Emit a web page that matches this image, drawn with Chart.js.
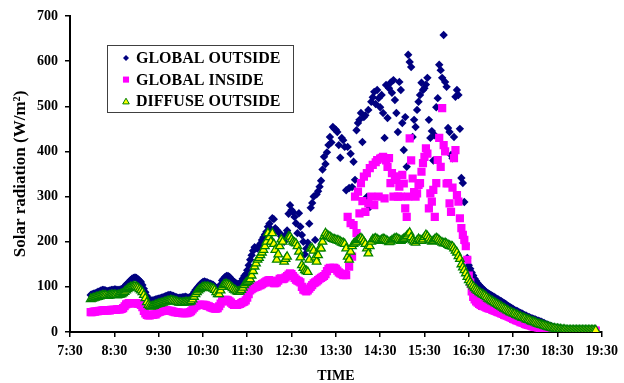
<!DOCTYPE html>
<html>
<head>
<meta charset="utf-8">
<script src="https://cdn.jsdelivr.net/npm/chart.js@4.4.1/dist/chart.umd.min.js"></script>
<style>
  html, body { margin: 0; padding: 0; background: #fff; }
  canvas { display: block; }
</style>
</head>
<body>
<canvas id="chart" width="624" height="383"></canvas>
<script>
// logger readings: first at 7:58, then one every 2 minutes (minutes after midnight)
const startMinute = 478;
const stepMinute = 2;

const timeTicks = ["7:30", "8:30", "9:30", "10:30", "11:30", "12:30", "13:30",
  "14:30", "15:30", "16:30", "17:30", "18:30", "19:30"];
const seriesLabels = ["GLOBAL OUTSIDE", "GLOBAL INSIDE", "DIFFUSE OUTSIDE"];

// W/m2, one row = 30 minutes
const globalOutside = [
  82, 84, 85, 86, 87, 89, 90, 92, 93, 93, 92, 91, 91, 92, 93,            // 7:58
  93, 94, 94, 93, 93, 94, 95, 97, 101, 105, 108, 111, 115, 118, 120,     // 8:28
  121, 120, 117, 114, 111, 104, 96, 88, 80, 74, 71, 70, 70, 71, 72,      // 8:58
  73, 74, 75, 76, 77, 78, 80, 81, 82, 82, 81, 80, 78, 77, 76,            // 9:28
  76, 76, 77, 77, 78, 77, 76, 77, 78, 82, 88, 93, 97, 101, 105,          // 9:58
  108, 111, 112, 111, 110, 108, 107, 106, 104, 101, 97, 94, 96, 105, 114, // 10:28
  118, 122, 124, 124, 122, 118, 114, 111, 109, 107, 106, 107, 112, 118, 124, // 10:58
  128, 137, 148, 160, 170, 180, 188, 186, 185, 190, 196, 204, 210, 216, 222, // 11:28
  233, 240, 228, 252, 250, 230, 226, 222, 219, 212, 208, 200, 215, 225, 262, // 11:58
  281, 270, 266, 255, 241, 219, 263, 233, 215, 200, 172, 185, 198, 240, 275, // 12:28
  286, 300, 204, 305, 312, 322, 335, 360, 388, 372, 398, 414, 432, 420, 454, // 12:58
  450, 448, 443, 414, 386, 430, 425, 410, 314, 410, 319, 395, 321, 377, 337, // 13:28
  447, 463, 470, 485, 421, 476, 480, 299, 492, 277, 510, 520, 532, 505, 536, // 13:58
  518, 498, 525, 485, 430, 547, 474, 540, 552, 530, 558, 514, 485, 443, 554, // 14:28
  536, 463, 403, 476, 366, 614, 598, 587, 432, 470, 454, 492, 510, 525, 552, // 14:58
  536, 540, 548, 563, 470, 430, 445, 380, 436, 498, 518, 592, 580, 563, 658, // 15:28
  554, 543, 452, 443, 392, 385, 432, 521, 536, 525, 450, 341, 330, 288, 193, // 15:58
  164, 148, 140, 132, 125, 118, 113, 108, 104, 100, 97, 94, 91, 88, 86,  // 16:28
  84, 82, 80, 78, 76, 74, 72, 70, 68, 66, 64, 62, 59, 57, 55,            // 16:58
  53, 51, 49, 47, 46, 44, 42, 41, 39, 37, 36, 34, 33, 31, 30,            // 17:28
  29, 28, 26, 25, 24, 23, 21, 20, 18, 17, 15, 14, 13, 11, 10,            // 17:58
  9, 8, 7, 6, 5, 5, 4, 4, 3, 3, 3, 3, 2, 2, 2,                           // 18:28
  2, 2, 2, 2, 2, 2, 2, 2, 2, 2, 2, 2, 2                                  // 18:58
];

const globalInside = [
  44, 44, 45, 45, 46, 46, 47, 47, 48, 48, 48, 48, 48, 48, 49,            // 7:58
  49, 49, 49, 50, 50, 50, 51, 53, 57, 61, 63, 64, 64, 64, 64,            // 8:28
  64, 64, 63, 62, 60, 55, 47, 41, 38, 37, 37, 38, 38, 39, 39,            // 8:58
  42, 44, 45, 46, 47, 48, 48, 48, 47, 47, 46, 45, 44, 44, 43,            // 9:28
  43, 43, 42, 42, 42, 42, 43, 44, 46, 50, 54, 57, 59, 60, 60,            // 9:58
  60, 60, 60, 59, 58, 57, 55, 54, 53, 52, 52, 53, 57, 63, 68,            // 10:28
  70, 71, 71, 70, 68, 65, 62, 60, 60, 60, 61, 62, 64, 66, 67,            // 10:58
  70, 76, 84, 92, 95, 97, 99, 100, 101, 103, 104, 106, 108, 110, 112,    // 11:28
  114, 115, 113, 110, 108, 108, 110, 114, 118, 119, 117, 118, 121, 124, 127, // 11:58
  130, 128, 124, 120, 116, 114, 112, 110, 100, 94, 92, 90, 92, 96, 100,  // 12:28
  104, 108, 110, 112, 115, 118, 120, 122, 124, 128, 135, 140, 142, 141, 142, // 12:58
  142, 140, 136, 132, 130, 128, 126, 128, 126, 255, 145, 241, 167, 237, 300, // 13:28
  219, 311, 263, 330, 290, 344, 266, 352, 285, 363, 300, 370, 281, 376, 381, // 13:58
  300, 384, 386, 388, 296, 380, 366, 385, 330, 352, 300, 345, 337, 300, 322, // 14:28
  300, 348, 329, 274, 255, 300, 429, 380, 340, 310, 300, 307, 326, 330, 355, // 14:58
  374, 388, 407, 395, 274, 307, 289, 315, 255, 330, 381, 430, 366, 496, 414, // 15:28
  400, 329, 330, 285, 266, 320, 385, 403, 303, 289, 252, 230, 215, 204, 190, // 15:58
  160, 125, 110, 90, 78, 72, 68, 65, 62, 60, 58, 57, 56, 54, 53,         // 16:28
  52, 51, 49, 48, 47, 45, 44, 43, 41, 40, 38, 37, 36, 34, 33,            // 16:58
  31, 29, 28, 26, 25, 24, 22, 21, 20, 18, 17, 16, 15, 14, 13,            // 17:28
  12, 12, 11, 10, 9, 9, 8, 7, 7, 6, 6, 5, 5, 5, 4,                       // 17:58
  4, 4, 4, 3, 3, 3, 3, 3, 3, 3, 3, 3, 3, 3, 3,                           // 18:28
  3, 3, 3, 3, 3, 3, 3, 3, 3, 3, 3, 3, 3                                  // 18:58
];

const diffuseOutside = [
  73, 74, 75, 76, 77, 78, 79, 80, 81, 81, 81, 80, 80, 81, 82,            // 7:58
  82, 82, 82, 81, 82, 83, 84, 86, 89, 92, 95, 97, 99, 100, 101,          // 8:28
  101, 100, 98, 95, 92, 88, 82, 75, 66, 60, 57, 56, 57, 58, 60,          // 8:58
  61, 62, 63, 64, 65, 66, 67, 68, 69, 70, 70, 69, 68, 67, 66,            // 9:28
  65, 65, 65, 65, 66, 66, 66, 66, 68, 72, 78, 84, 88, 92, 95,            // 9:58
  97, 99, 100, 100, 100, 99, 98, 97, 96, 93, 88, 84, 84, 92, 100,        // 10:28
  104, 106, 106, 105, 103, 100, 97, 94, 92, 90, 89, 90, 93, 98, 104,     // 10:58
  108, 111, 114, 117, 125, 135, 145, 152, 160, 164, 170, 176, 182, 190, 200, // 11:28
  219, 210, 200, 219, 195, 182, 160, 172, 190, 205, 200, 156, 162, 167, 211, // 11:58
  211, 205, 200, 198, 196, 190, 178, 165, 148, 142, 137, 135, 133, 160, 185, // 12:28
  185, 180, 165, 156, 170, 185, 185, 200, 212, 219, 215, 212, 211, 208, 206, // 12:58
  205, 204, 203, 202, 200, 198, 197, 195, 185, 167, 160, 178, 190, 195, 198, // 13:28
  200, 204, 206, 208, 205, 200, 195, 185, 174, 190, 200, 205, 206, 207, 205, // 13:58
  203, 202, 204, 206, 205, 203, 201, 199, 200, 203, 205, 207, 208, 206, 204, // 14:28
  202, 204, 206, 209, 212, 216, 220, 210, 203, 200, 198, 202, 206, 204, 202, // 14:58
  205, 210, 215, 212, 207, 203, 200, 202, 205, 208, 206, 203, 200, 198, 196, // 15:28
  197, 195, 193, 191, 190, 189, 185, 180, 176, 168, 162, 150, 143, 137, 130, // 15:58
  122, 115, 110, 105, 101, 97, 94, 91, 88, 86, 84, 82, 80, 77, 74,       // 16:28
  72, 70, 68, 66, 64, 62, 60, 58, 56, 54, 52, 50, 48, 46, 44,            // 16:58
  43, 41, 40, 38, 37, 35, 34, 32, 31, 30, 28, 27, 26, 24, 23,            // 17:28
  22, 21, 19, 18, 17, 16, 15, 14, 13, 12, 11, 10, 9, 8, 8,               // 17:58
  7, 7, 6, 6, 5, 5, 5, 4, 4, 4, 4, 4, 4, 4, 4,                           // 18:28
  4, 4, 4, 4, 4, 4, 4, 4, 4, 4, 4, 4, 4                                  // 18:58
];

const serif = '"Liberation Serif", "Times New Roman", serif';

function toPoints(values) {
  return values.map((v, i) => ({ x: startMinute + i * stepMinute, y: v }));
}

function toMinutes(label) {
  const [h, m] = label.split(":").map(Number);
  return h * 60 + m;
}

function formatTime(value) {
  const h = Math.floor(value / 60);
  const m = Math.round(value % 60);
  return h + ":" + String(m).padStart(2, "0");
}

function markerPath(ctx, style, x, y, r) {
  ctx.beginPath();
  if (style === "rectRot") {
    ctx.moveTo(x - r, y);
    ctx.lineTo(x, y - r);
    ctx.lineTo(x + r, y);
    ctx.lineTo(x, y + r);
  } else if (style === "rect") {
    const s = r * Math.SQRT1_2;
    ctx.rect(x - s, y - s, 2 * s, 2 * s);
  } else {
    ctx.moveTo(x, y - r);
    ctx.lineTo(x + r * 0.866, y + r / 2);
    ctx.lineTo(x - r * 0.866, y + r / 2);
  }
  ctx.closePath();
}

// boxed legend in the upper left of the plot
const legendBox = {
  id: "legendBox",
  afterDraw(chart) {
    const ctx = chart.ctx;
    ctx.save();
    ctx.fillStyle = "#fff";
    ctx.fillRect(107, 45, 186, 67);
    ctx.strokeStyle = "#404040";
    ctx.lineWidth = 1;
    ctx.strokeRect(107.5, 45.5, 186, 67);
    const sizes = [3, 4.3, 3.8];
    chart.data.datasets.forEach((ds, i) => {
      const y = 58 + i * 21.6;
      markerPath(ctx, ds.pointStyle, 126, ds.pointStyle === "triangle" ? y + 0.8 : y, sizes[i]);
      ctx.fillStyle = ds.backgroundColor;
      ctx.fill();
      if (ds.borderWidth) {
        ctx.strokeStyle = ds.borderColor;
        ctx.lineWidth = 1;
        ctx.stroke();
      }
      ctx.fillStyle = "#000";
      ctx.font = "bold 16px " + serif;
      ctx.textBaseline = "middle";
      ctx.textAlign = "left";
      ctx.fillText(ds.label, 136, y + 1);
    });
    ctx.restore();
  }
};

const axisFont = { family: serif, size: 14, weight: "bold" };

new Chart(document.getElementById("chart"), {
  type: "scatter",
  data: {
    datasets: [
      {
        label: seriesLabels[0],
        data: toPoints(globalOutside),
        pointStyle: "rectRot",
        pointRadius: 4.2,
        backgroundColor: "#000080",
        borderColor: "#000080",
        borderWidth: 0,
        order: 2,
      },
      {
        label: seriesLabels[1],
        data: toPoints(globalInside),
        pointStyle: "rect",
        pointRadius: 5.8,
        backgroundColor: "#ff00ff",
        borderColor: "#ff00ff",
        borderWidth: 0,
        order: 1,
      },
      {
        label: seriesLabels[2],
        data: toPoints(diffuseOutside),
        pointStyle: "triangle",
        pointRadius: 4.9,
        backgroundColor: "#ffff00",
        borderColor: "#008000",
        borderWidth: 1.3,
        order: 0,
      },
    ],
  },
  options: {
    responsive: false,
    animation: false,
    devicePixelRatio: 1,
    layout: { padding: { top: 16, right: 16, bottom: 0, left: 0 } },
    plugins: {
      legend: { display: false },
      tooltip: { enabled: false },
    },
    scales: {
      x: {
        type: "linear",
        min: toMinutes(timeTicks[0]),
        max: toMinutes(timeTicks[timeTicks.length - 1]),
        afterBuildTicks: (scale) => {
          scale.ticks = timeTicks.map((t) => ({ value: toMinutes(t) }));
        },
        afterFit: (scale) => {
          scale.height = 51;
        },
        ticks: {
          callback: (v) => formatTime(v),
          font: axisFont,
          color: "#000",
          padding: 6,
          maxRotation: 0,
          autoSkip: false,
        },
        grid: { drawOnChartArea: false, tickLength: 5, color: "#000", lineWidth: 1.5 },
        border: { color: "#000", width: 2 },
        title: {
          display: true,
          text: "TIME",
          color: "#000",
          font: { family: serif, size: 14, weight: "bold", lineHeight: 1 },
          padding: { top: 0, bottom: 0 },
        },
      },
      y: {
        min: 0,
        max: 700,
        afterFit: (scale) => {
          scale.width = 70;
        },
        ticks: {
          stepSize: 100,
          font: axisFont,
          color: "#000",
          padding: 7,
        },
        grid: { drawOnChartArea: false, tickLength: 5, color: "#000", lineWidth: 1.5 },
        border: { color: "#000", width: 2 },
        title: {
          display: true,
          text: "Solar radiation (W/m²)",
          color: "#000",
          font: { family: serif, size: 17, weight: "bold" },
          padding: { top: 10, bottom: 0 },
        },
      },
    },
  },
  plugins: [legendBox],
});
</script>
</body>
</html>
